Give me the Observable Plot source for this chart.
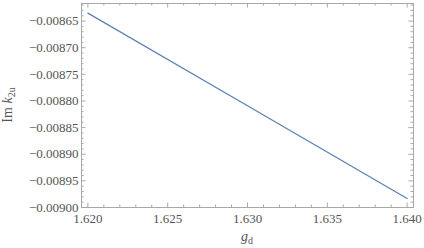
<!DOCTYPE html>
<html><head><meta charset="utf-8">
<script src="https://cdn.jsdelivr.net/npm/d3@7"></script>
<script src="https://cdn.jsdelivr.net/npm/@observablehq/plot@0.6"></script>
<style>
body{margin:0;background:#fff}
</style>
</head><body><div id="chart"></div>
<script>
// data
const gd = [1.620, 1.630, 1.640];
const imK2u = [-0.008635, -0.008809, -0.008983];
const xTicks = [1.620, 1.625, 1.630, 1.635, 1.640];
const yTicks = [-0.00865, -0.00870, -0.00875, -0.00880, -0.00885, -0.00890, -0.00895, -0.00900];
const xDomain = [1.6196, 1.6404];
const yDomain = [-0.009, -0.008617];

const data = gd.map((x, i) => ({x, y: imK2u[i]}));
const xMinor = d3.range(1620, 1641).map(v => v / 1000).filter(v => !xTicks.some(t => Math.abs(t - v) < 1e-9));
const yMinor = d3.range(862, 901).map(v => -v / 100000).filter(v => !yTicks.some(t => Math.abs(t - v) < 1e-12));

const W = 424, H = 248, mL = 81, mR = 11, mT = 3, mB = 41;
const fw = W - mL - mR, fh = H - mT - mB;
const frameColor = "#a8a8a8";
const textColor = "#555";
const major = 4.5, minor = 2.5;
const font = "Liberation Serif";

const chart = Plot.plot({
  width: W, height: H,
  marginLeft: mL, marginRight: mR, marginTop: mT, marginBottom: mB,
  style: {fontFamily: font, fontSize: "13px", color: textColor, background: "#fff"},
  x: {domain: xDomain},
  y: {domain: yDomain},
  marks: [
    Plot.frame({stroke: frameColor}),
    Plot.tickX(xTicks, {x: d => d, insetTop: fh - major, stroke: frameColor}),
    Plot.tickX(xTicks, {x: d => d, insetBottom: fh - major, stroke: frameColor}),
    Plot.tickX(xMinor, {x: d => d, insetTop: fh - minor, stroke: frameColor}),
    Plot.tickX(xMinor, {x: d => d, insetBottom: fh - minor, stroke: frameColor}),
    Plot.tickY(yTicks, {y: d => d, insetRight: fw - major, stroke: frameColor}),
    Plot.tickY(yTicks, {y: d => d, insetLeft: fw - major, stroke: frameColor}),
    Plot.tickY(yMinor, {y: d => d, insetRight: fw - minor, stroke: frameColor}),
    Plot.tickY(yMinor, {y: d => d, insetLeft: fw - minor, stroke: frameColor}),
    Plot.axisX(xTicks, {anchor: "bottom", tickSize: 0, tickPadding: 6, tickFormat: d3.format(".3f"), label: null}),
    Plot.axisY(yTicks, {anchor: "left", tickSize: 0, tickPadding: 3, tickFormat: d3.format(".5f"), label: null}),
    Plot.line(data, {x: "x", y: "y", stroke: "#5e81b5", strokeWidth: 1.3})
  ]
});

const svg = d3.select(chart);
svg.selectAll("g[aria-label$='tick label'], g[aria-label$='tick label'] text")
  .attr("font-family", font).attr("font-variant", "normal")
  .style("font-family", font).style("font-variant", "normal").style("font-size", "13px");
svg.selectAll("text").style("font-family", font).style("font-variant", "normal");

const yl = svg.append("text")
  .attr("transform", `translate(12,${mT + fh / 2}) rotate(-90)`)
  .attr("text-anchor", "middle")
  .attr("fill", textColor)
  .style("font-family", font)
  .style("font-size", "14px");
yl.append("tspan").text("Im ");
yl.append("tspan").attr("font-style", "italic").text("k");
yl.append("tspan").attr("font-size", "10px").attr("dy", 3).text("2u");

const xl = svg.append("text")
  .attr("x", mL + fw / 2).attr("y", 241)
  .attr("text-anchor", "middle")
  .attr("fill", textColor)
  .style("font-family", font)
  .style("font-size", "14px");
xl.append("tspan").attr("font-style", "italic").text("g");
xl.append("tspan").attr("font-size", "10px").attr("dy", 3).text("d");

document.getElementById("chart").append(chart);
</script>
</body></html>
